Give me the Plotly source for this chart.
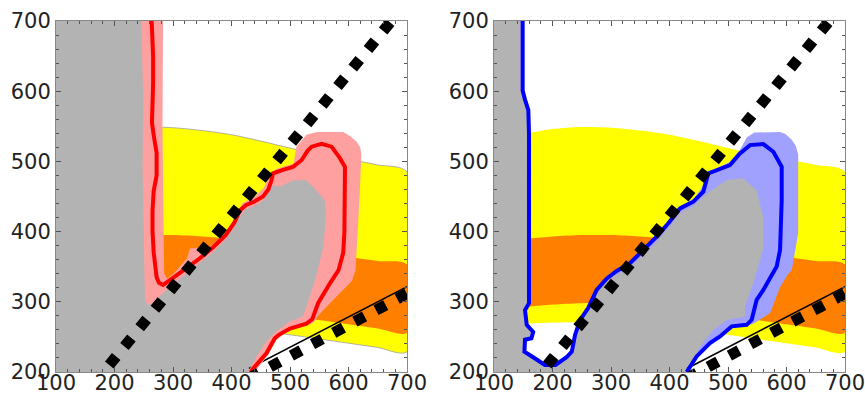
import plotly.graph_objects as go

# ---------------- data ----------------
TICKS_X = [100, 200, 300, 400, 500, 600, 700]
TICKS_Y = [200, 300, 400, 500, 600, 700]

BAND_X = [100, 160, 200, 250, 300, 350, 400, 450, 500, 550, 600, 650, 700]
YELLOW_TOP = [525, 540, 546, 549, 548, 544, 538, 529, 519, 510, 503, 495, 485]
ORANGE_TOP = [385, 390, 393, 395, 395, 393, 390, 385, 379, 372, 364, 358, 353]
ORANGE_BOTTOM = [288, 293, 296, 298, 298, 296, 292, 287, 281, 274, 268, 262, 256]
YELLOW_BOTTOM = [266, 269, 270.5, 271, 270, 267, 263, 258, 253, 247, 241, 235, 229]

RED_X = [263.5, 266, 266, 264, 264, 268, 272, 272, 267, 265, 265, 267, 269, 272, 276, 283,
         300, 323, 346, 369, 390, 405, 414, 425, 437, 454, 463, 468, 471, 488, 505, 520, 530,
         537, 554, 571, 585, 594, 594, 593, 591, 583, 568, 548, 538, 528, 500, 481, 474, 460,
         437, 433]
RED_Y = [700, 650, 610, 580, 555, 532, 512, 480, 458, 430, 400, 370, 350, 335, 327, 324,
         334, 348, 362, 378, 395, 413, 430, 438, 442, 450, 460, 472, 483, 488, 492, 502, 515,
         521, 525, 521, 505, 492, 445, 400, 370, 345, 326, 298, 275, 269, 262, 253, 248, 227,
         205, 200]

PINK_X = [246, 249, 248, 250, 252, 257, 268, 282, 300, 323, 346, 369, 388, 402, 410, 425,
          437, 452, 462, 470, 483, 505, 528, 545, 559, 562, 557, 543, 528, 522, 500, 477, 460,
          443, 428,
          440, 462, 476, 490, 505, 528, 540, 548, 568, 591, 606, 612, 616, 619, 622, 620, 614,
          603, 591, 546, 528, 517, 511, 506, 490, 476, 466, 455, 440, 418, 408, 395, 372, 350,
          340, 329, 324, 302, 290, 285, 284, 282, 283]
PINK_Y = [700, 590, 490, 400, 303, 295, 300, 312, 326, 340, 355, 371, 387, 403, 418, 432,
          436, 443, 454, 466, 464, 473, 473, 459, 445, 426, 378, 331, 293, 279, 272, 258, 244,
          222, 200,
          200, 224, 245, 255, 261, 266, 270, 280, 298, 317, 330, 345, 398, 450, 510, 520, 528,
          536, 542, 542, 538, 526, 521, 497, 493, 489, 480, 462, 450, 440, 420, 403, 385, 369,
          377, 376, 362, 341, 333, 340, 400, 550, 700]

BLUE_X = [149, 149, 149, 153, 158.7, 159.8, 159.8, 159.8, 158.7, 159.8, 153, 156, 167, 164,
          153, 152, 167, 187, 205, 224, 233, 238.5, 247, 261, 275.5, 292.6, 309.7, 332.5,
          355.3, 378, 398, 418, 440.7, 457.8, 466.3, 480.6, 503.4, 520.5, 537.6, 560.4, 577.5,
          591.8, 591.8, 589, 583.2, 560.4, 549, 540.5, 531.9, 506.3, 486.3, 469.2, 446.4, 429.3]
BLUE_Y = [700, 640, 601, 588, 573, 540, 470, 397, 326, 298, 288, 267, 257, 248,
          246, 229, 221, 210, 210, 221, 229, 252.7, 274, 291, 317, 333, 344, 354.9,
          374, 392.8, 411.8, 433.1, 442.6, 456.8, 482.9, 487.6, 494.8, 511.3, 523.2, 524.6, 513.7,
          492.4, 445, 373.9, 350.2, 317, 302.8, 274.3, 267.2, 265, 250.6, 241.2, 222.2, 200]

LBLUE_X = [310, 332, 355, 378, 398, 418, 441, 458, 470, 476, 498, 526, 549, 560, 560, 543,
           529, 529, 498, 475, 452, 436, 431,
           434, 449, 470, 488, 507, 532, 544, 572, 589, 603, 609, 620, 620, 616, 609, 598, 589,
           545, 532, 520, 503, 480, 466, 455, 442, 419, 399, 379, 356, 333, 310]
LBLUE_Y = [338, 349, 367, 386, 405, 427, 436, 450, 458, 461, 473.5, 476, 459, 421, 374, 326,
           293, 279, 274, 260, 236, 210, 200,
           200, 222, 241, 251, 264, 266, 269, 284, 321, 340, 345, 398, 510, 522, 531, 539, 542,
           541, 534, 516, 499, 490, 486, 462, 447, 437, 416, 397, 378, 359, 347]

DIAG_X = [165, 683]
DIAG_Y = [183.6, 710]
LOWER_X = [430, 710]
LOWER_Y = [191.2, 316.1]
SOLID_X = [430, 700]
SOLID_Y = [205, 321.5]

GRAY = "#b3b3b3"
YELLOW = "#ffff00"
ORANGE = "#ff8000"

fig = go.Figure()


def add_panel(xa, ya, line_x, line_y, band_x, band_y, band_col, line_col, edge):
    kw = dict(xaxis=xa, yaxis=ya, showlegend=False, hoverinfo="skip", mode="lines")
    fig.add_trace(go.Scatter(x=BAND_X + BAND_X[::-1], y=YELLOW_TOP + YELLOW_BOTTOM[::-1],
                             fill="toself", fillcolor=YELLOW,
                             line=dict(width=0.8 if edge else 0, color="#a0a0a0", shape="spline",
                                       smoothing=0.8), **kw))
    fig.add_trace(go.Scatter(x=BAND_X + BAND_X[::-1], y=ORANGE_TOP + ORANGE_BOTTOM[::-1],
                             fill="toself", fillcolor=ORANGE,
                             line=dict(width=0, shape="spline", smoothing=0.8), **kw))
    fig.add_trace(go.Scatter(x=[100, 100] + line_x + [100], y=[200, 700] + line_y + [200],
                             fill="toself", fillcolor=GRAY, line=dict(width=0), **kw))
    fig.add_trace(go.Scatter(x=SOLID_X, y=SOLID_Y, line=dict(color="black", width=1.5), **kw))
    fig.add_trace(go.Scatter(x=band_x + band_x[:1], y=band_y + band_y[:1], fill="toself",
                             fillcolor=band_col, line=dict(width=0), **kw))
    fig.add_trace(go.Scatter(x=line_x, y=line_y, line=dict(color=line_col, width=4), **kw))
    for lx, ly in ((DIAG_X, DIAG_Y), (LOWER_X, LOWER_Y)):
        fig.add_trace(go.Scatter(x=lx, y=ly, line=dict(color="black", width=11, dash="11px,13px"),
                                 **kw))


add_panel("x", "y", RED_X, RED_Y, PINK_X, PINK_Y, "#ffa0a0", "#ff0000", True)
add_panel("x2", "y2", BLUE_X, BLUE_Y, LBLUE_X, LBLUE_Y, "#a0a0ff", "#0000ff", False)

font = dict(family="DejaVu Sans", size=21, color="#222222")
common = dict(ticks="inside", ticklen=5, tickwidth=1, tickcolor="#555555",
              showline=True, linecolor="#888888", linewidth=1, mirror="ticks",
              showgrid=False, zeroline=False, tickfont=font, automargin=False,
              ticklabeloverflow="allow",
              minor=dict(dtick=20, ticks="inside", ticklen=3, tickcolor="#555555", showgrid=False))
xcommon = dict(range=[100, 700], tickvals=TICKS_X, ticktext=[str(v) for v in TICKS_X],
               ticklabelstandoff=-8, **common)
ycommon = dict(range=[200, 700], tickvals=TICKS_Y, ticktext=[str(v) for v in TICKS_Y], **common)

fig.update_layout(
    width=865, height=396, margin=dict(l=0, r=0, t=0, b=0, autoexpand=False),
    paper_bgcolor="white", plot_bgcolor="white",
    xaxis=dict(domain=[56 / 865, 407 / 865], anchor="y", **xcommon),
    yaxis=dict(domain=[24 / 396, 375 / 396], anchor="x", **ycommon),
    xaxis2=dict(domain=[494 / 865, 845 / 865], anchor="y2", **xcommon),
    yaxis2=dict(domain=[24 / 396, 375 / 396], anchor="x2", **ycommon),
)

fig.write_html("out.html")
